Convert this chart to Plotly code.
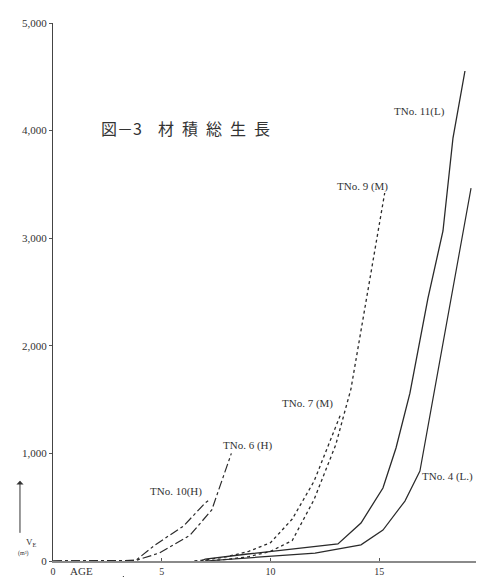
import plotly.graph_objects as go

# --- data (age in years, V in m^3) ---
tno10_age = [0, 3.8, 4.7, 6.0, 7.0, 7.2]
tno10_v = [0, 5, 150, 325, 540, 570]

tno6_age = [0, 3.8, 4.9, 6.3, 7.3, 8.2]
tno6_v = [0, 5, 75, 240, 475, 1000]

tno7_age = [6.5, 7, 8, 9, 10, 11, 12, 13.2]
tno7_v = [0, 10, 40, 90, 170, 390, 740, 1350]

tno9_age = [7, 8, 9, 10, 11, 12, 13, 13.7, 15.25]
tno9_v = [0, 15, 40, 90, 190, 570, 1080, 1600, 3420]

tno11_age = [6.8, 7.0, 8.95, 10.5, 13.1, 14.16, 15.17, 15.77, 16.41, 17.24, 17.93, 18.39, 18.94]
tno11_v = [0, 18, 65, 100, 158, 353, 678, 1050, 1560, 2444, 3067, 3931, 4554]

tno4_age = [7.0, 9.75, 12.05, 14.16, 15.17, 16.18, 16.87, 17.56, 19.22]
tno4_v = [0, 37, 74, 150, 288, 557, 836, 1608, 3466]

x_ticks = [0, 5, 10, 15, 20]
x_tick_text = ["0", "5", "10", "15", "20"]
y_ticks = [0, 1000, 2000, 3000, 4000, 5000]
y_tick_text = ["0", "1,000", "2,000", "3,000", "4,000", "5,000"]

labels = ["TNo. 11(L)", "TNo. 9 (M)", "TNo. 7 (M)", "TNo. 6 (H)", "TNo. 10(H)", "TNo. 4 (L.)"]
label_age = [16.87, 14.25, 11.72, 8.97, 5.66, 18.16]
label_v = [4173, 3485, 1468, 1078, 650, 790]

title_text = "図－3\u3000材\u2002積\u2002総\u2002生\u2002長"

ink = "#2a2a2a"
serif = "Liberation Serif"

fig = go.Figure()

series = [
    (tno10_age, tno10_v, "dashdot", 1.2),
    (tno6_age, tno6_v, "dashdot", 1.2),
    (tno7_age, tno7_v, "dot", 1.3),
    (tno9_age, tno9_v, "dot", 1.3),
    (tno11_age, tno11_v, "solid", 1.3),
    (tno4_age, tno4_v, "solid", 1.2),
]
for xs, ys, dash, w in series:
    fig.add_trace(go.Scatter(x=xs, y=ys, mode="lines",
                             line=dict(color=ink, width=w, dash=dash),
                             showlegend=False, hoverinfo="skip"))

for t, ax_, v in zip(labels, label_age, label_v):
    fig.add_annotation(x=ax_, y=v, text=t, showarrow=False,
                       font=dict(family=serif, size=11, color="#333"),
                       xanchor="center", yanchor="middle")

fig.add_annotation(x=2.1, y=4024, text=title_text, showarrow=False,
                   font=dict(family="Noto Sans CJK JP", size=16, color="#333"),
                   xanchor="left", yanchor="middle")

# y-axis quantity label with upward arrow
fig.add_annotation(xref="paper", yref="paper", x=-0.0759, y=0.149,
                   ax=0, ay=62, text=" ", showarrow=True,
                   arrowhead=1, arrowsize=1.2, arrowwidth=1, arrowcolor="#333")
fig.add_annotation(xref="paper", yref="paper", x=-0.066, y=0.035,
                   text="V<sub>E</sub>", showarrow=False,
                   font=dict(family=serif, size=9, color="#333"),
                   xanchor="left", yanchor="middle")
fig.add_annotation(xref="paper", yref="paper", x=-0.085, y=0.0135,
                   text="(m³)", showarrow=False,
                   font=dict(family=serif, size=6, color="#333"),
                   xanchor="left", yanchor="middle")

# AGE label with arrow underline
fig.add_annotation(xref="paper", yref="paper", x=0.0644, y=-0.0185,
                   text="AGE", showarrow=False,
                   font=dict(family=serif, size=11, color="#333"),
                   xanchor="center", yanchor="middle")
fig.add_shape(type="line", xref="paper", yref="paper",
              x0=0.0115, x1=0.154, y0=-0.0353, y1=-0.0353,
              line=dict(color="#333", width=1))
fig.add_shape(type="line", xref="paper", yref="paper",
              x0=0.1609, x1=0.170, y0=-0.0279, y1=-0.0372,
              line=dict(color="#333", width=1))

fig.update_layout(
    width=484, height=577,
    margin=dict(l=45, r=4, t=15, b=24),
    paper_bgcolor="white", plot_bgcolor="white",
    xaxis=dict(range=[0, 20], tickvals=x_ticks, ticktext=x_tick_text,
               showgrid=False, zeroline=False, showline=True,
               linecolor="#8a8a8a", linewidth=1.5, ticks="inside",
               ticklen=3, tickcolor="#555",
               tickfont=dict(family=serif, size=10, color="#333")),
    yaxis=dict(range=[0, 5000], tickvals=y_ticks, ticktext=y_tick_text,
               showgrid=False, zeroline=False, showline=True,
               linecolor="#444", linewidth=1.2, ticks="outside",
               ticklen=3, tickcolor="#555",
               tickfont=dict(family=serif, size=11, color="#333")),
)

fig.write_html("out.html")
